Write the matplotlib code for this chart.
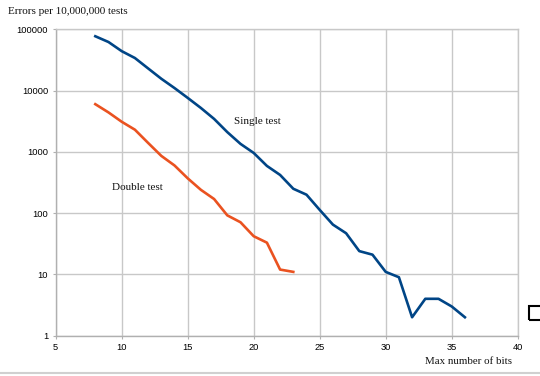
import matplotlib
matplotlib.use("Agg")
import matplotlib.pyplot as plt
from matplotlib.patches import Rectangle
from matplotlib.lines import Line2D

# Data
single_bits = [8, 9, 10, 11, 12, 13, 14, 15, 16, 17, 18, 19, 20, 21, 22, 23, 24,
               25, 26, 27, 28, 29, 30, 31, 32, 33, 34, 35, 36]
single_errors = [77000, 62000, 44000, 34000, 23000, 15600, 11000, 7600, 5200, 3450,
                 2100, 1350, 960, 590, 420, 250, 200, 113, 65, 47, 24, 21, 11, 9,
                 2, 4, 4, 3, 2]
double_bits = [8, 9, 10, 11, 12, 13, 14, 15, 16, 17, 18, 19, 20, 21, 22, 23]
double_errors = [6000, 4400, 3100, 2300, 1400, 860, 600, 370, 240, 170, 92, 71, 42,
                 33, 12, 11]
x_ticks = [5, 10, 15, 20, 25, 30, 35, 40]
y_ticks = [1, 10, 100, 1000, 10000, 100000]
y_labels = ["1", "10", "100", "1000", "10000", "100000"]

W, H = 540, 376
fig = plt.figure(figsize=(W / 100, H / 100), dpi=100)
ax = fig.add_axes([55.7 / W, 40.3 / H, 462.0 / W, 306.4 / H])

blue = "#004586"
orange = "#ea5220"
grid_c = "#c8c8c8"

ax.plot(single_bits, single_errors, color=blue, lw=1.9, solid_joinstyle="round", zorder=3)
ax.plot(double_bits, double_errors, color=orange, lw=1.9, solid_joinstyle="round", zorder=3)

ax.set_yscale("log")
ax.set_xlim(5, 40)
ax.set_ylim(1, 100000)
ax.set_xticks(x_ticks)
ax.set_xticklabels([str(t) for t in x_ticks])
ax.set_yticks(y_ticks)
ax.set_yticklabels(y_labels)
ax.minorticks_off()
ax.grid(True, color=grid_c, lw=1.0, zorder=0)
for s in ax.spines.values():
    s.set_color(grid_c)
    s.set_linewidth(1.0)
ax.spines["left"].set_color("#b0b0b0")
ax.spines["bottom"].set_color("#b0b0b0")
ax.tick_params(axis="both", length=2.5, width=0.8, color="#b0b0b0", pad=3,
               labelsize=6.7, labelcolor="#000000")
for lab in ax.get_xticklabels() + ax.get_yticklabels():
    lab.set_family("Liberation Sans")

serif = "Liberation Serif"
fs = 8.0
fig.text(8 / W, 1 - 11 / H, "Errors per 10,000,000 tests", family=serif, fontsize=fs,
         ha="left", va="center", color="#111111")
fig.text(234 / W, 1 - 121 / H, "Single test", family=serif, fontsize=fs,
         ha="left", va="center", color="#111111")
fig.text(112 / W, 1 - 188 / H, "Double test", family=serif, fontsize=fs,
         ha="left", va="center", color="#111111")
fig.text(425 / W, 1 - 362 / H, "Max number of bits", family=serif, fontsize=7.8,
         ha="left", va="center", color="#111111")

# partial legend box at right edge
fig.patches.append(Rectangle((529 / W, 1 - 320 / H), 14 / W, 14 / H,
                             transform=fig.transFigure, fill=False,
                             edgecolor="black", lw=1.5))
# screenshot border line at bottom
fig.lines.append(Line2D([0, 1], [1 - 373 / H, 1 - 373 / H], transform=fig.transFigure,
                        color="#d0d0d0", lw=1.5))

fig.savefig("out.png", dpi=100)
